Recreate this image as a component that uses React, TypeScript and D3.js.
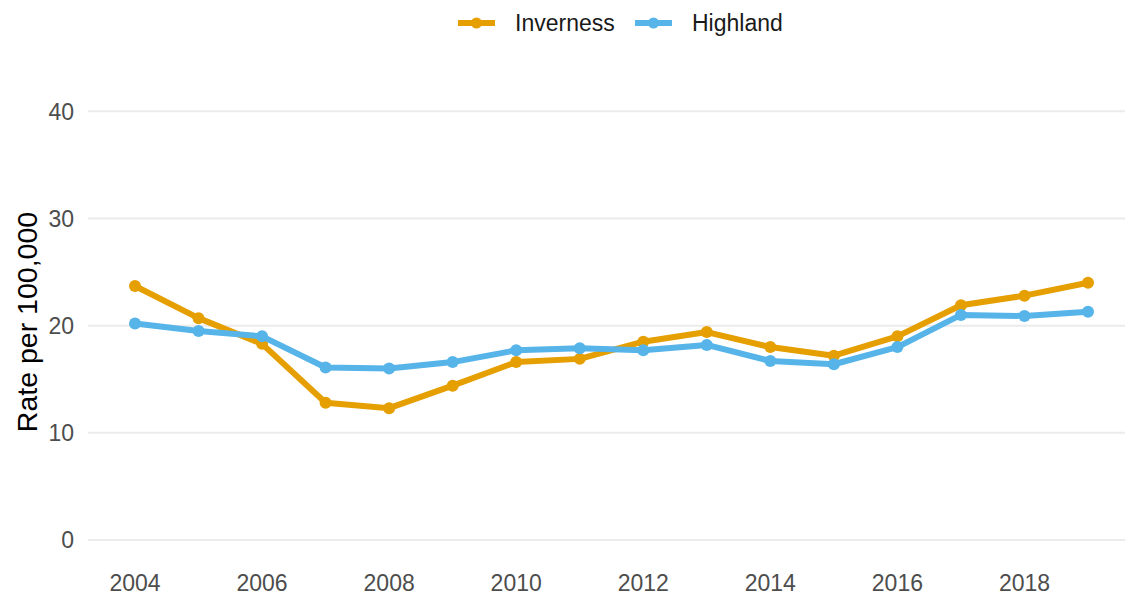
import React from "react";
import * as d3 from "d3";

const years = [2004, 2005, 2006, 2007, 2008, 2009, 2010, 2011, 2012, 2013, 2014, 2015, 2016, 2017, 2018, 2019];
const inverness = [23.7, 20.7, 18.3, 12.8, 12.3, 14.4, 16.6, 16.9, 18.5, 19.4, 18.0, 17.2, 19.0, 21.9, 22.8, 24.0];
const highland = [20.2, 19.5, 19.0, 16.1, 16.0, 16.6, 17.7, 17.9, 17.7, 18.2, 16.7, 16.4, 18.0, 21.0, 20.9, 21.3];
const yTicks = [0, 10, 20, 30, 40];
const xTicks = [2004, 2006, 2008, 2010, 2012, 2014, 2016, 2018];
const seriesNames = ["Inverness", "Highland"];
const seriesColors = ["#E69F00", "#56B4E9"];

const W = 1125;
const H = 595;
const FONT = "'Liberation Sans', Arial, sans-serif";

export default function App() {
  const x = d3.scaleLinear().domain([2004, 2019]).range([135, 1088]);
  const y = d3.scaleLinear().domain([0, 40]).range([540, 111.3]);
  const line = d3
    .line<number>()
    .x((_, i) => x(years[i]))
    .y((d) => y(d));
  const series = [inverness, highland];
  const legendX = [458, 635];

  return (
    <svg
      width={W}
      height={H}
      style={{ position: "absolute", left: 0, top: 0, background: "#fff" }}
      fontFamily={FONT}
    >
      {yTicks.map((t) => (
        <g key={t}>
          <line x1={88} x2={W} y1={y(t)} y2={y(t)} stroke="#ebebeb" strokeWidth={2} />
          <text x={74} y={y(t)} dy="0.36em" textAnchor="end" fontSize={23} fill="#4d4d4d">
            {t}
          </text>
        </g>
      ))}
      {xTicks.map((t) => (
        <text key={t} x={x(t)} y={583} dy="0.36em" textAnchor="middle" fontSize={23} fill="#4d4d4d">
          {t}
        </text>
      ))}
      <text
        transform={`translate(37,322) rotate(-90)`}
        textAnchor="middle"
        fontSize={28.5}
        fill="#000"
      >
        Rate per 100,000
      </text>
      {series.map((s, si) => (
        <g key={si}>
          <path d={line(s) || ""} fill="none" stroke={seriesColors[si]} strokeWidth={6} strokeLinejoin="round" />
          {s.map((v, i) => (
            <circle key={i} cx={x(years[i])} cy={y(v)} r={6} fill={seriesColors[si]} />
          ))}
        </g>
      ))}
      {seriesNames.map((n, i) => {
        const lx = legendX[i];
        return (
          <g key={n}>
            <line x1={lx} x2={lx + 37} y1={23} y2={23} stroke={seriesColors[i]} strokeWidth={6} />
            <circle cx={lx + 18.5} cy={23} r={5.5} fill={seriesColors[i]} />
            <text x={lx + 57} y={23} dy="0.36em" fontSize={23} fill="#1a1a1a">
              {n}
            </text>
          </g>
        );
      })}
    </svg>
  );
}
